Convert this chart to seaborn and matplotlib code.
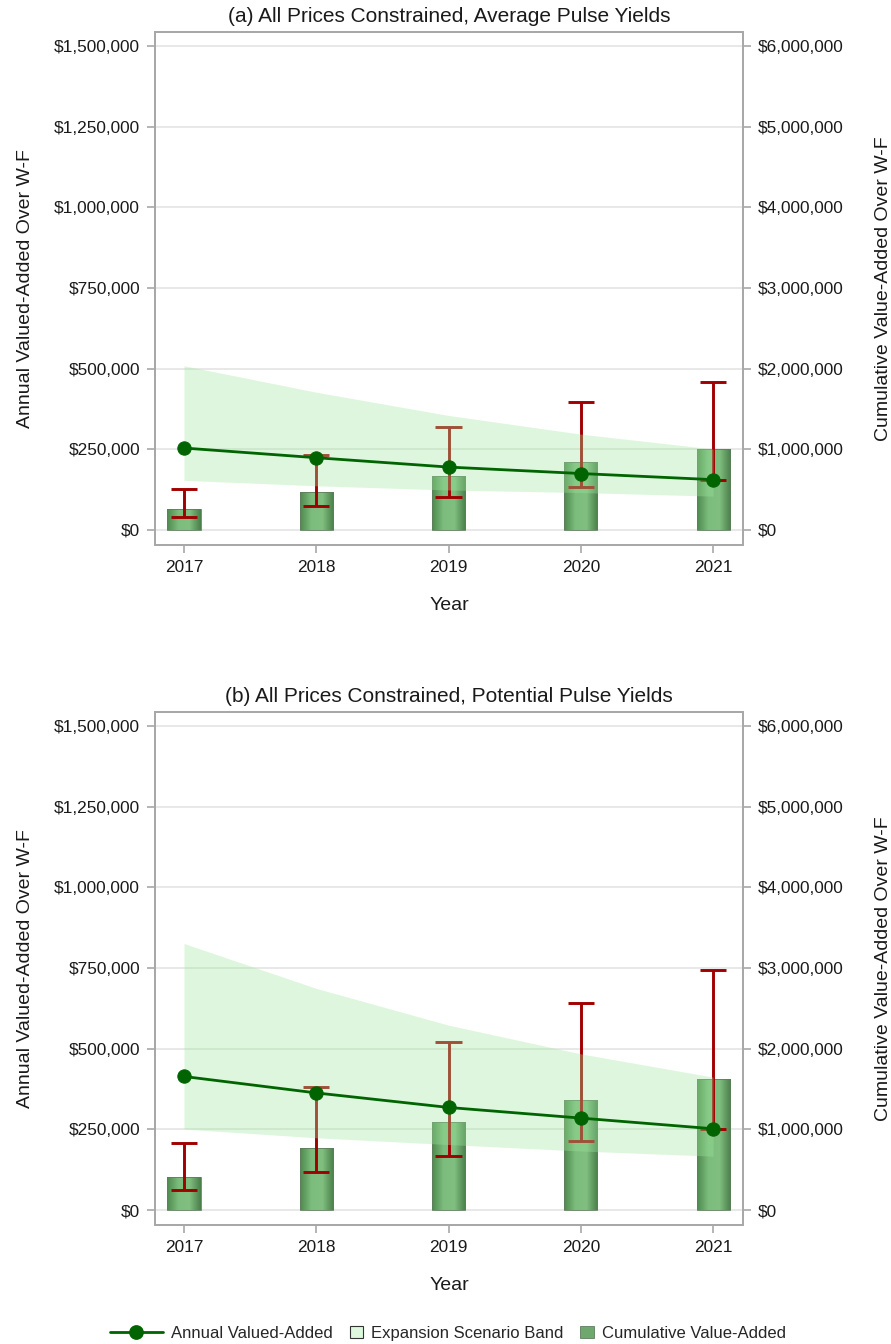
import numpy as np
import matplotlib
matplotlib.use("Agg")
import matplotlib.pyplot as plt
import seaborn as sns
from matplotlib.colors import LinearSegmentedColormap
from matplotlib.lines import Line2D
from matplotlib.patches import Patch
from matplotlib.ticker import FuncFormatter
from matplotlib.legend_handler import HandlerBase

years = [2017, 2018, 2019, 2020, 2021]

# (a) average pulse yields
annual_a = [254000, 224000, 195000, 175000, 156000]
band_low_a = [154000, 137000, 124000, 116000, 105000]
band_high_a = [509000, 427000, 355000, 297000, 251000]
err_low_a = [39000, 73000, 103000, 133000, 156000]
err_high_a = [126000, 233000, 320000, 396000, 458000]
cum_a = [255000, 475000, 671000, 846000, 1004000]

# (b) potential pulse yields
annual_b = [414000, 363000, 318000, 285000, 252000]
band_low_b = [251000, 224000, 203000, 183000, 167000]
band_high_b = [826000, 687000, 573000, 484000, 412000]
err_low_b = [61000, 117000, 168000, 213000, 252000]
err_high_b = [207000, 380000, 521000, 641000, 744000]
cum_b = [408000, 773000, 1095000, 1370000, 1630000]

titles = ["(a) All Prices Constrained, Average Pulse Yields",
          "(b) All Prices Constrained, Potential Pulse Yields"]

left_ticks = [0, 250000, 500000, 750000, 1000000, 1250000, 1500000]
right_ticks = [0, 1000000, 2000000, 3000000, 4000000, 5000000, 6000000]

LINE_GREEN = "#006400"
ERR_RED = "#A00000"
BAND_GREEN = "#9EE89E"
FRAME = "#A8A8A8"
TEXT = "#1A1A1A"

sns.set_theme(style="white")
plt.rcParams["font.family"] = ["Liberation Sans", "DejaVu Sans"]

money = FuncFormatter(lambda v, p: "${:,.0f}".format(v))
bar_cmap = LinearSegmentedColormap.from_list(
    "bargrad", ["#4F8A4F", "#7CBC7C", "#80BF80", "#4A7E4A"])


class LongLineHandler(HandlerBase):
    # legend line handle longer than the patch handles
    def create_artists(self, legend, orig_handle, xdescent, ydescent,
                       width, height, fontsize, trans):
        x0 = -xdescent - 3 * width
        x1 = -xdescent + width
        y = -ydescent + height / 2
        line = Line2D([x0, x1], [y, y], color=orig_handle.get_color(),
                      lw=orig_handle.get_linewidth(), transform=trans)
        dot = Line2D([(x0 + x1) / 2], [y], marker="o", linestyle="none",
                     markersize=orig_handle.get_markersize(),
                     color=orig_handle.get_color(), transform=trans)
        return [line, dot]


def draw_panel(ax, title, annual, band_low, band_high, err_low, err_high, cum):
    ax2 = ax.twinx()
    ax.set_zorder(ax2.get_zorder() + 1)
    ax.patch.set_visible(False)

    # cumulative bars on the right axis
    sns.barplot(x=years, y=cum, native_scale=True, width=0.25,
                color="#6FA86F", errorbar=None, ax=ax2,
                edgecolor="#5E7E5E", linewidth=0.6)
    grad = np.linspace(0, 1, 64).reshape(1, -1)
    for bar in list(ax2.patches):
        x0, y0 = bar.get_x(), bar.get_y()
        w, h = bar.get_width(), bar.get_height()
        im = ax2.imshow(grad, cmap=bar_cmap, aspect="auto",
                        extent=[x0, x0 + w, y0, y0 + h], zorder=1.5)
        im.set_clip_path(bar)
        bar.set_facecolor("none")
        bar.set_zorder(1.6)

    # error bars, band, line on the left axis
    xs = np.array(years)
    ax.vlines(years, err_low, err_high, color=ERR_RED, lw=2.1, zorder=2)
    ax.hlines(err_low, xs - 0.1, xs + 0.1, color=ERR_RED, lw=2.1, zorder=2)
    ax.hlines(err_high, xs - 0.1, xs + 0.1, color=ERR_RED, lw=2.1, zorder=2)
    ax.fill_between(years, band_low, band_high, color=BAND_GREEN,
                    alpha=0.35, linewidth=0, zorder=3)
    sns.lineplot(x=years, y=annual, color=LINE_GREEN, lw=2.0, marker="o",
                 markersize=9.6, markeredgecolor=LINE_GREEN, ax=ax, zorder=4)

    ax.set_xlim(2016.781, 2021.227)
    ax.set_xticks(years)
    ax.set_xticklabels([str(y) for y in years])
    ax.set_ylim(-46500, 1543400)
    ax.set_yticks(left_ticks)
    ax.yaxis.set_major_formatter(money)
    ax2.set_ylim(-186000, 6173600)
    ax2.set_yticks(right_ticks)
    ax2.yaxis.set_major_formatter(money)

    ax2.grid(axis="y", color="#E6E6E6", lw=1.3)
    ax2.set_axisbelow(True)
    ax.grid(False)

    for a in (ax, ax2):
        for s in a.spines.values():
            s.set_color(FRAME)
            s.set_linewidth(1.3)
        a.tick_params(axis="both", which="major", direction="out", length=5.8,
                      width=1.2, color=FRAME, labelsize=12.4, pad=5,
                      labelcolor=TEXT)
    ax.tick_params(left=True, bottom=True)
    ax2.tick_params(right=True)

    ax.set_title(title, fontsize=15, pad=7, color=TEXT)
    ax.set_xlabel("Year", fontsize=14, color=TEXT)
    ax.set_ylabel("Annual Valued-Added Over W-F", fontsize=14, color=TEXT)
    ax2.set_ylabel("Cumulative Value-Added Over W-F", fontsize=14, color=TEXT)
    ax.xaxis.set_label_coords(0.5, -0.102)
    ax.yaxis.set_label_coords(-0.206, 0.5)
    ax2.yaxis.set_label_coords(1.224, 0.5)


fig = plt.figure(figsize=(8.91, 13.44), dpi=100)
ax_a = fig.add_axes([0.174, 0.5945, 0.660, 0.3817])
ax_b = fig.add_axes([0.174, 0.0885, 0.660, 0.3817])

draw_panel(ax_a, titles[0], annual_a, band_low_a, band_high_a,
           err_low_a, err_high_a, cum_a)
draw_panel(ax_b, titles[1], annual_b, band_low_b, band_high_b,
           err_low_b, err_high_b, cum_b)

h_line = Line2D([], [], color=LINE_GREEN, lw=2.0, marker="o", markersize=9.6)
h_band = Patch(facecolor="#DDF8DD", edgecolor="#333333", linewidth=0.8)
h_bar = Patch(facecolor="#6FA86F", edgecolor="#5E7E5E", linewidth=0.6)
fig.legend([h_line, h_band, h_bar],
           ["Annual Valued-Added", "Expansion Scenario Band",
            "Cumulative Value-Added"],
           handler_map={Line2D: LongLineHandler()},
           loc="center", bbox_to_anchor=(0.525, 0.008), ncol=3,
           frameon=False, fontsize=12, handlelength=0.8, handleheight=0.8,
           handletextpad=0.5, columnspacing=1.0)

fig.savefig("out.png", dpi=100)
